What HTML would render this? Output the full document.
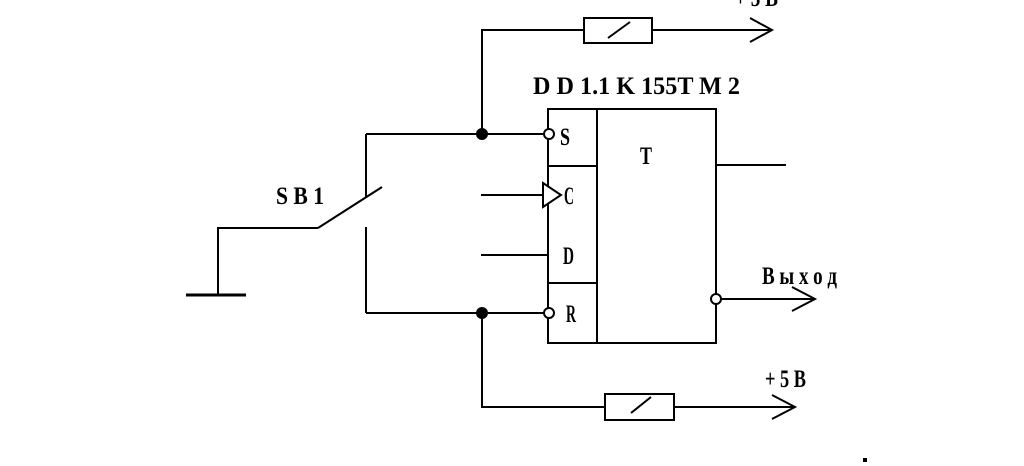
<!DOCTYPE html>
<html><head><style>html,body{margin:0;padding:0;background:#fff;}svg{display:block}</style></head>
<body>
<svg width="1024" height="466" viewBox="0 0 1024 466" xmlns="http://www.w3.org/2000/svg">
<g stroke="#000" stroke-width="2" fill="none">
<polyline points="482,134 482,30 584,30"/>
<rect x="584" y="18" width="68" height="25" fill="#fff"/>
<line x1="608" y1="38" x2="630" y2="22"/>
<line x1="652" y1="30" x2="772" y2="30"/>
<polyline points="750,18 772,30 750,42"/>
<line x1="366" y1="134" x2="544" y2="134"/>
<line x1="366" y1="134" x2="366" y2="197"/>
<line x1="366" y1="227" x2="366" y2="313"/>
<line x1="318" y1="228" x2="382" y2="187"/>
<polyline points="318,228 218,228 218,295"/>
<line x1="186" y1="295" x2="246" y2="295" stroke-width="3"/>
<line x1="366" y1="313" x2="544" y2="313"/>
<polyline points="482,313 482,407 605,407"/>
<rect x="605" y="394" width="69" height="26" fill="#fff"/>
<line x1="631" y1="413" x2="651" y2="397"/>
<line x1="674" y1="407" x2="795" y2="407"/>
<polyline points="772,395 795,407 772,419"/>
<rect x="548" y="109" width="168" height="234"/>
<line x1="597" y1="109" x2="597" y2="343"/>
<line x1="548" y1="166" x2="597" y2="166"/>
<line x1="548" y1="283" x2="597" y2="283"/>
<line x1="481" y1="195" x2="543" y2="195"/>
<polygon points="543,183 561,195 543,207" fill="#fff"/>
<line x1="481" y1="255" x2="548" y2="255"/>
<line x1="716" y1="165" x2="786" y2="165"/>
<line x1="721" y1="299" x2="815" y2="299"/>
<polyline points="792,287 815,299 792,311"/>
<circle cx="549" cy="134" r="5" fill="#fff"/>
<circle cx="549" cy="313" r="5" fill="#fff"/>
<circle cx="716" cy="299" r="5" fill="#fff"/>
</g>
<circle cx="482" cy="134" r="6" fill="#000"/>
<circle cx="482" cy="313" r="6" fill="#000"/>
<rect x="863" y="458" width="4" height="4" fill="#000"/>
<g font-family="Liberation Serif, serif" font-weight="bold" font-size="25" fill="#000">
<text x="276" y="204" textLength="48" lengthAdjust="spacingAndGlyphs">S B 1</text>
<text x="533" y="94" textLength="207" lengthAdjust="spacingAndGlyphs">D D 1.1 K 155T M 2</text>
<text x="560" y="145" textLength="10" lengthAdjust="spacingAndGlyphs">S</text>
<text x="564" y="204" textLength="10" lengthAdjust="spacingAndGlyphs">C</text>
<text x="563" y="264" textLength="11" lengthAdjust="spacingAndGlyphs">D</text>
<text x="566" y="322" textLength="10" lengthAdjust="spacingAndGlyphs">R</text>
<text x="640" y="164" textLength="12" lengthAdjust="spacingAndGlyphs">T</text>
<text x="735" y="6" textLength="43" lengthAdjust="spacingAndGlyphs">+ 5 B</text>
<text x="762" y="284" textLength="75" lengthAdjust="spacingAndGlyphs">B ы х о д</text>
<text x="765" y="387" textLength="41" lengthAdjust="spacingAndGlyphs">+ 5 B</text>
</g>
</svg>
</body></html>
